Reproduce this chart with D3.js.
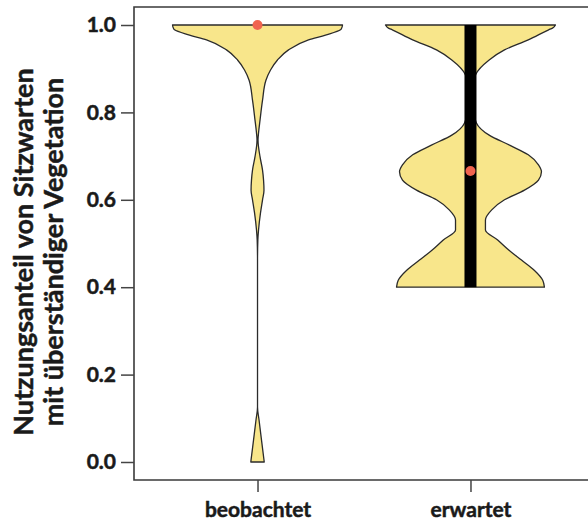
<!DOCTYPE html>
<html>
<head>
<meta charset="utf-8">
<script src="https://cdn.jsdelivr.net/npm/d3@7"></script>
<style>
  body { margin: 0; background: #fff; }
  text { font-family: Lato, "Open Sans", sans-serif; font-weight: bold; fill: #1a1a1a; stroke: #1a1a1a; stroke-width: 0.5px; }
</style>
</head>
<body>
<div id="chart"></div>
<script>
// groups on the x axis
const groups = ["beobachtet", "erwartet"];
const yTicks = [0, 0.2, 0.4, 0.6, 0.8, 1.0];

// violin outline for "beobachtet": proportion values and relative half-width (density)
const obsValues  = [1.0, 0.993, 0.989, 0.977, 0.966, 0.943, 0.920, 0.897, 0.874, 0.828, 0.783, 0.753, 0.737,
                    0.698, 0.668, 0.645, 0.622, 0.600, 0.570, 0.531, 0.508, 0.462, 0.142, 0.126, 0.096, 0.050, 0.0];
const obsDensity = [1.0, 0.99, 0.976, 0.80, 0.60, 0.365, 0.235, 0.153, 0.10, 0.059, 0.03, 0.012, 0.006,
                    0.03, 0.059, 0.071, 0.076, 0.059, 0.035, 0.012, 0.004, 0, 0, 0, 0.018, 0.047, 0.079];

// violin outline for "erwartet"
const expValues  = [1.0, 0.993, 0.989, 0.966, 0.943, 0.920, 0.886, 0.851, 0.817, 0.776, 0.748, 0.725, 0.703,
                    0.680, 0.664, 0.645, 0.622, 0.600, 0.577, 0.554, 0.531, 0.508, 0.485, 0.462, 0.439, 0.416, 0.400];
const expDensity = [1.0, 0.965, 0.92, 0.68, 0.40, 0.22, 0.06, 0.024, 0.024, 0.07, 0.22, 0.46, 0.68,
                    0.80, 0.835, 0.80, 0.635, 0.40, 0.25, 0.176, 0.176, 0.32, 0.45, 0.60, 0.75, 0.85, 0.87];

// summary marks
const barLow  = [null, 0.4];
const barHigh = [null, 1.0];
const means   = [1.0, 0.666];

const W = 588, H = 523;
const margin = { left: 134, top: 7, bottom: 43 };

const svg = d3.select("#chart").append("svg")
  .attr("width", W).attr("height", H);

const y = d3.scaleLinear()
  .domain([-0.0412, 1.0412])
  .range([H - margin.bottom, margin.top]);

const x = d3.scalePoint()
  .domain(groups)
  .range([margin.left, 594])
  .padding(0.58);

const w = d3.scaleLinear().domain([0, 1]).range([0, 85]);

const violins = [
  { g: groups[0], vals: obsValues, dens: obsDensity },
  { g: groups[1], vals: expValues, dens: expDensity }
];

violins.forEach((vio, i) => {
  const pts = vio.vals.map((v, j) => ({ v: v, d: vio.dens[j] }));
  const cx = x(vio.g);
  const area = d3.area()
    .y(d => y(d.v))
    .x0(d => cx - w(d.d))
    .x1(d => cx + w(d.d))
    .curve(d3.curveMonotoneY);

  svg.append("path")
    .datum(pts)
    .attr("d", area)
    .attr("fill", "#f8e68b")
    .attr("stroke", "#2b2b2b")
    .attr("stroke-width", 1.3)
    .attr("stroke-linejoin", "round");

  if (barLow[i] != null) {
    svg.append("rect")
      .attr("x", cx - 6)
      .attr("width", 12)
      .attr("y", y(barHigh[i]))
      .attr("height", y(barLow[i]) - y(barHigh[i]))
      .attr("fill", "#000");
  }

  svg.append("circle")
    .attr("cx", cx)
    .attr("cy", y(means[i]))
    .attr("r", 5)
    .attr("fill", "#f0644f");
});

// frame
svg.append("path")
  .attr("d", `M594,${margin.top}H${margin.left}V${H - margin.bottom}H594`)
  .attr("fill", "none")
  .attr("stroke", "#3a3a3a")
  .attr("stroke-width", 1.6);

// y axis
const yAxis = svg.append("g")
  .attr("transform", `translate(${margin.left},0)`)
  .call(d3.axisLeft(y).tickValues(yTicks).tickFormat(d3.format(".1f")).tickSize(13).tickPadding(5));
yAxis.select(".domain").remove();
yAxis.selectAll(".tick line").attr("stroke", "#444").attr("stroke-width", 1.5);
yAxis.selectAll("text").style("font-size", "21px").attr("fill", "#1a1a1a");

// x axis
const xAxis = svg.append("g")
  .attr("transform", `translate(0,${H - margin.bottom})`)
  .call(d3.axisBottom(x).tickSize(12).tickPadding(10));
xAxis.select(".domain").remove();
xAxis.selectAll(".tick line").attr("stroke", "#444").attr("stroke-width", 1.5);
xAxis.selectAll("text").style("font-size", "21px").attr("fill", "#1a1a1a");

// y axis title
const title = svg.append("text")
  .attr("transform", "translate(33,252) rotate(-90)")
  .attr("text-anchor", "middle")
  .style("font-size", "27px");
title.append("tspan").attr("x", 0).attr("y", 0).text("Nutzungsanteil von Sitzwarten");
title.append("tspan").attr("x", 0).attr("y", 30).text("mit überständiger Vegetation");
</script>
</body>
</html>
